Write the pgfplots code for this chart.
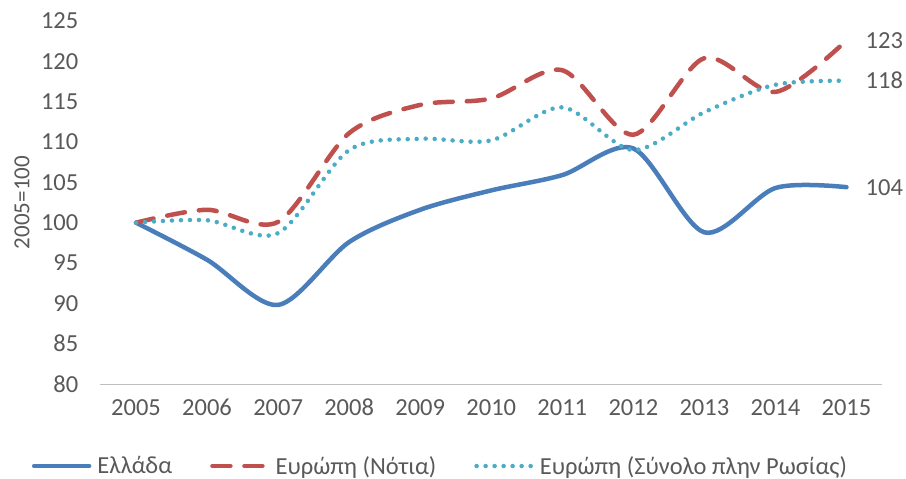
\documentclass[border=0pt]{standalone}
\usepackage{fontspec}
\setmainfont{Carlito}
\usepackage{pgfplots}
\pgfplotsset{compat=1.18}
\definecolor{cgr}{HTML}{4A7EBB}
\definecolor{ceu}{HTML}{C0504D}
\definecolor{cto}{HTML}{4BACC6}
\definecolor{ctxt}{HTML}{595959}
\definecolor{caxis}{HTML}{BFBFBF}
\begin{document}
\begin{tikzpicture}
\path[use as bounding box] (-100.5bp,-95bp) rectangle (805.5bp,384bp);
\begin{axis}[
  scale only axis,
  width=781.5bp, height=363bp,
  xmin=2004.5, xmax=2015.5,
  ymin=80, ymax=125,
  xtick={2005,2006,...,2015},
  ytick={80,85,...,125},
  /pgf/number format/assume math mode=true,
  /pgf/number format/1000 sep={},
  axis x line*=bottom,
  axis y line*=left,
  x axis line style={draw=caxis, line width=1bp},
  y axis line style={draw=none},
  tick style={draw=none},
  xticklabel style={font=\fontsize{24.5bp}{28bp}\selectfont, text=ctxt, inner sep=0pt, yshift=-15bp},
  yticklabel style={font=\fontsize{24.5bp}{28bp}\selectfont, text=ctxt, inner sep=0pt, anchor=east, xshift=-22bp},
  ylabel={2005=100},
  every axis y label/.style={at={([xshift=-78.5bp]axis description cs:0,0.5)}, rotate=90, anchor=center, font=\fontsize{23bp}{26bp}\selectfont, text=ctxt},
  legend columns=3,
  legend style={draw=none, fill=none, at={(0.435,-0.226)}, anchor=center,
    font=\fontsize{24.5bp}{28bp}\selectfont, text=ctxt,
    /tikz/every even column/.append style={column sep=36bp}},
  legend image code/.code={\draw[#1] (0bp,0bp) -- (55bp,0bp);},
  clip=false,
]
\addplot[cgr, line width=4.5bp, smooth, line cap=round] coordinates {
(2005,100) (2006,95.4) (2007,89.8) (2008,97.6) (2009,101.6) (2010,104.0) (2011,105.9) (2012,109.2) (2013,98.8) (2014,104.3) (2015,104.4)};
\addlegendentry{\hspace{4bp}Ελλάδα}
\addplot[ceu, line width=4.5bp, smooth, line cap=round, dash pattern=on 18bp off 14bp] coordinates {
(2005,100) (2006,101.6) (2007,100.1) (2008,111.1) (2009,114.6) (2010,115.4) (2011,118.9) (2012,110.9) (2013,120.4) (2014,116.2) (2015,122.6)};
\addlegendentry{\hspace{4bp}Ευρώπη (Νότια)}
\addplot[cto, line width=4.5bp, smooth, line cap=round, dash pattern=on 0bp off 9bp] coordinates {
(2005,100) (2006,100.3) (2007,98.7) (2008,109.0) (2009,110.4) (2010,110.2) (2011,114.3) (2012,109.0) (2013,113.7) (2014,117.1) (2015,117.6)};
\addlegendentry{\hspace{4bp}Ευρώπη (Σύνολο πλην Ρωσίας)}
\node[anchor=west, text=ctxt, font=\fontsize{24.5bp}{28bp}\selectfont, inner sep=0pt] at ([xshift=19bp]axis cs:2015,122.6) {123};
\node[anchor=west, text=ctxt, font=\fontsize{24.5bp}{28bp}\selectfont, inner sep=0pt] at ([xshift=19bp]axis cs:2015,117.6) {118};
\node[anchor=west, text=ctxt, font=\fontsize{24.5bp}{28bp}\selectfont, inner sep=0pt] at ([xshift=19bp]axis cs:2015,104.4) {104};
\end{axis}
\end{tikzpicture}
\end{document}
